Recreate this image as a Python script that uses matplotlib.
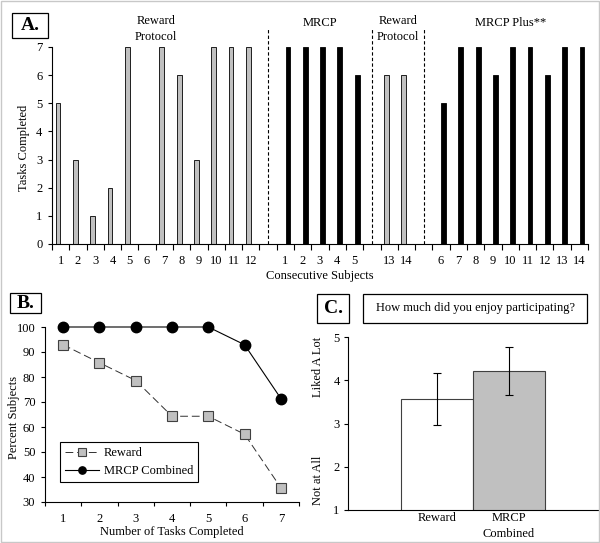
import numpy as np
import matplotlib.pyplot as plt
from matplotlib.patches import Rectangle

plt.rcParams['font.family'] = ['Liberation Serif', 'DejaVu Serif']
plt.rcParams['font.size'] = 9

W, H = 600, 543

# panel A: tasks completed per subject, in the order they were run
reward_1 = [5, 3, 1, 2, 7, 0, 7, 6, 3, 7, 7, 7]
reward_1_ids = [1, 2, 3, 4, 5, 6, 7, 8, 9, 10, 11, 12]
mrcp = [7, 7, 7, 7, 6]
mrcp_ids = [1, 2, 3, 4, 5]
reward_2 = [6, 6]
reward_2_ids = [13, 14]
mrcp_plus = [5, 7, 7, 6, 7, 7, 6, 7, 7]
mrcp_plus_ids = [6, 7, 8, 9, 10, 11, 12, 13, 14]
group_names = ['Reward\nProtocol', 'MRCP', 'Reward\nProtocol', 'MRCP Plus**']

# panel B: percent of subjects completing at least n tasks
task_levels = [1, 2, 3, 4, 5, 6, 7]
pct_reward = [92.9, 85.7, 78.6, 64.3, 64.3, 57.1, 35.7]
pct_mrcp = [100, 100, 100, 100, 100, 92.9, 71.4]

# panel C: enjoyment rating
enjoy_groups = ['Reward', 'MRCP\nCombined']
enjoy_mean = [3.57, 4.21]
enjoy_err = [0.60, 0.56]

GRAY = '#c0c0c0'

fig = plt.figure(figsize=(W / 100, H / 100), dpi=100)


def px_axes(l, t, r, b):
    return fig.add_axes([l / W, 1 - b / H, (r - l) / W, (b - t) / H])


def box_text(l, t, r, b, text, **kw):
    fig.patches.append(Rectangle((l / W, 1 - b / H), (r - l) / W, (b - t) / H,
                                 transform=fig.transFigure, fill=False,
                                 edgecolor='black', linewidth=0.9))
    fig.text((l + r) / 2 / W, 1 - (t + b) / 2 / H, text,
             ha='center', va='center', **kw)


def clean(ax):
    ax.spines['top'].set_visible(False)
    ax.spines['right'].set_visible(False)
    for s in ('left', 'bottom'):
        ax.spines[s].set_linewidth(0.8)


# ---------- A ----------
axA = px_axes(52, 47, 588, 244)
groups = [(reward_1, reward_1_ids, 'reward'), (mrcp, mrcp_ids, 'mrcp'),
          (reward_2, reward_2_ids, 'reward'), (mrcp_plus, mrcp_plus_ids, 'mrcp')]
pos = 0
tick_pos, tick_lab = [], []
for gi, (vals, ids, kind) in enumerate(groups):
    xs = np.arange(pos, pos + len(vals))
    if kind == 'reward':
        axA.bar(xs - 0.15, vals, width=0.28, color=GRAY, edgecolor='black', linewidth=0.6)
    else:
        axA.bar(xs + 0.15, vals, width=0.28, color='black', edgecolor='black', linewidth=0.6)
    tick_pos += list(xs)
    tick_lab += [str(i) for i in ids]
    name = group_names[gi]
    yname = 7.64 if '\n' in name else 7.85
    axA.text(xs.mean(), yname, name, ha='center', va='center', linespacing=1.45)
    pos += len(vals) + 1
    if gi < len(groups) - 1:
        axA.plot([pos - 1, pos - 1], [0, 7.67], color='black', lw=0.8,
                 ls=(0, (3, 2)), clip_on=False)

axA.set_xlim(-0.5, pos - 1.5)
axA.set_ylim(0, 7)
axA.set_yticks(range(8))
axA.set_xticks(tick_pos, tick_lab)
axA.set_xticks(np.arange(-0.5, pos - 1), minor=True)
axA.tick_params(axis='x', which='major', length=0, pad=8)
axA.tick_params(axis='x', which='minor', length=4, width=0.8)
axA.tick_params(axis='y', length=3, width=0.8, pad=4)
clean(axA)
axA.set_ylabel('Tasks Completed', va='center')
axA.yaxis.set_label_coords((24 - 52) / 536, 0.49)
axA.set_xlabel('Consecutive Subjects')
axA.xaxis.label.set_va('center')
axA.xaxis.set_label_coords(0.5, -(276 - 244) / 197)
box_text(12, 13, 48, 38, 'A.', fontsize=14, fontweight='bold')

# ---------- B ----------
axB = px_axes(45, 327, 299, 502)
axB.plot(task_levels, pct_reward, color='#303030', lw=0.7, ls=(0, (8, 4)),
         marker='s', ms=7.5, mfc=GRAY, mec='#404040', mew=0.8, label='Reward',
         clip_on=False)
axB.plot(task_levels, pct_mrcp, color='black', lw=0.8, marker='o', ms=7.5,
         mfc='black', mec='black', label='MRCP Combined', clip_on=False)
axB.set_xlim(0.5, 7.5)
axB.set_ylim(30, 100)
axB.set_yticks(range(30, 101, 10))
axB.set_xticks(task_levels)
axB.set_xticks(np.arange(0.5, 8), minor=True)
axB.tick_params(axis='x', which='major', length=0, pad=8)
axB.tick_params(axis='x', which='minor', length=3, width=0.8)
axB.tick_params(axis='y', length=3, width=0.8, pad=4)
clean(axB)
axB.set_ylabel('Percent Subjects', va='center')
axB.yaxis.set_label_coords((14 - 45) / 254, 0.486)
axB.set_xlabel('Number of Tasks Completed')
axB.xaxis.label.set_va('center')
axB.xaxis.set_label_coords(0.5, -(532 - 502) / 175)
leg = axB.legend(loc='lower left', bbox_to_anchor=(15 / 254, 20 / 175),
                 borderaxespad=0, fancybox=False, edgecolor='black', framealpha=1,
                 handlelength=2.7, handletextpad=0.4, markerscale=0.7,
                 labelspacing=0.45, borderpad=0.4)
leg.get_frame().set_linewidth(0.8)
box_text(10, 293, 41, 313, 'B.', fontsize=14, fontweight='bold')

# ---------- C ----------
axC = px_axes(348, 337, 598, 510)
xc = [-0.288, 0.288]
axC.bar(xc, enjoy_mean, width=0.576, color=['white', GRAY],
        edgecolor='#404040', linewidth=0.8)
axC.errorbar(xc, enjoy_mean, yerr=enjoy_err, fmt='none', ecolor='black',
             elinewidth=0.8, capsize=3, capthick=0.8)
axC.set_xlim(-1, 1)
axC.set_ylim(1, 5)
axC.set_yticks(range(1, 6))
axC.set_xticks(xc, enjoy_groups)
axC.tick_params(axis='x', length=0, pad=1.5)
axC.tick_params(axis='y', length=3, width=0.8, pad=3)
for lab in axC.get_xticklabels():
    lab.set_linespacing(1.4)
clean(axC)
fig.text(318 / W, 1 - 480 / H, 'Not at All', rotation=90, ha='center', va='center')
fig.text(318 / W, 1 - 367 / H, 'Liked A Lot', rotation=90, ha='center', va='center')
box_text(317, 294, 349, 323, 'C.', fontsize=14, fontweight='bold')
box_text(363, 294, 587, 323, 'How much did you enjoy participating?')

# light frame round the whole picture
fig.patches.append(Rectangle((0.002, 0.002), 0.996, 0.996, transform=fig.transFigure,
                             fill=False, edgecolor='#c8c8c8', linewidth=1))

fig.savefig('out.png', dpi=100)
